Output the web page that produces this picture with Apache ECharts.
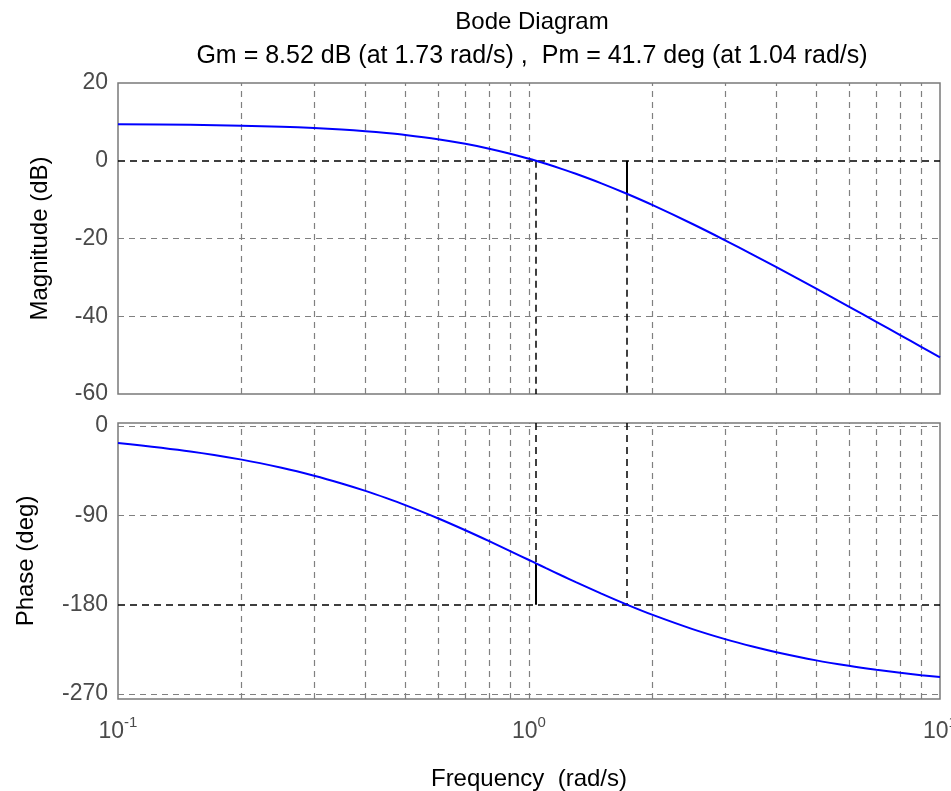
<!DOCTYPE html>
<html>
<head>
<meta charset="utf-8">
<script src="https://cdn.jsdelivr.net/npm/echarts@6/dist/echarts.min.js"></script>
<style>
html, body { margin: 0; padding: 0; background: #fff; }
#bode { width: 951px; height: 791px; }
</style>
</head>
<body>
<div id="bode"></div>
<script>
// frequency points (rad/s) and the values
var freq = [0.1, 0.15, 0.2, 0.25, 0.3, 0.35, 0.4, 0.45, 0.5, 0.6, 0.7, 0.8, 0.9, 1.0, 1.04, 1.1, 1.2, 1.3, 1.5, 1.73, 2, 2.5, 3, 3.5, 4, 5, 6, 7, 8, 9, 10];
var magDb = [9.41, 9.25, 9.03, 8.75, 8.42, 8.04, 7.61, 7.14, 6.64, 5.54, 4.35, 3.10, 1.81, 0.51, -0.01, -0.79, -2.08, -3.35, -5.81, -8.50, -11.43, -16.27, -20.46, -24.13, -27.37, -32.91, -37.50, -41.43, -44.85, -47.87, -50.59];
var phaseDeg = [-17.1, -25.6, -33.9, -42.1, -50.1, -57.9, -65.4, -72.7, -79.7, -92.9, -105.0, -116.0, -126.0, -135.0, -138.4, -143.2, -150.6, -157.3, -168.9, -179.9, -190.3, -204.6, -214.7, -222.2, -227.9, -236.1, -241.6, -245.6, -248.6, -251.0, -252.9];

// grid / tick values
var minorFreqs = [0.2, 0.3, 0.4, 0.5, 0.6, 0.7, 0.8, 0.9, 1, 2, 3, 4, 5, 6, 7, 8, 9];
var magTicks = [20, 0, -20, -40, -60];
var phaseTicks = [0, -90, -180, -270];

// stability margins
var wcg = 1.73, gmDb = 8.52;
var wcp = 1.04, pmDeg = 41.7;

var gridGray = '#808080';
var frameGray = '#7a7a7a';
var labelGray = '#4a4a4a';
var font = 'Liberation Sans';

var dashGray = { color: gridGray, type: [6, 5], width: 1.2 };
var dashBlack = { color: '#000', type: [7, 5], width: 1.5 };
var solidBlack = { color: '#000', type: 'solid', width: 2 };

function vLines(vals) {
  return vals.map(function (v) { return { xAxis: v, lineStyle: dashGray }; });
}
function hLines(vals) {
  return vals.map(function (v) { return { yAxis: v, lineStyle: dashGray }; });
}

var chart = echarts.init(document.getElementById('bode'));

chart.setOption({
  animation: false,
  backgroundColor: '#fff',
  title: {
    text: 'Bode Diagram',
    subtext: 'Gm = ' + gmDb + ' dB (at ' + wcg + ' rad/s) ,  Pm = ' + pmDeg + ' deg (at ' + wcp + ' rad/s)',
    left: 527,
    textAlign: 'center',
    top: 4,
    itemGap: 8,
    textStyle: { fontFamily: font, fontSize: 24, lineHeight: 26, fontWeight: 'normal', color: '#000' },
    subtextStyle: { fontFamily: font, fontSize: 25, lineHeight: 26, color: '#000' }
  },
  grid: [
    { left: 118, right: 11, top: 83, height: 311, show: true, borderColor: frameGray, borderWidth: 1.5, outerBoundsMode: 'none', containLabel: false },
    { left: 118, right: 11, top: 423, height: 276, show: true, borderColor: frameGray, borderWidth: 1.5, outerBoundsMode: 'none', containLabel: false }
  ],
  xAxis: [
    {
      gridIndex: 0, type: 'log', logBase: 10, min: 0.1, max: 10,
      axisLine: { show: false }, axisTick: { show: false }, axisLabel: { show: false },
      splitLine: { show: false }
    },
    {
      gridIndex: 1, type: 'log', logBase: 10, min: 0.1, max: 10,
      axisLine: { show: false }, axisTick: { show: false },
      splitLine: { show: false },
      axisLabel: {
        margin: 16,
        hideOverlap: false,
        formatter: function (v) {
          return '{b|10}{sup|' + Math.round(Math.log10(v)) + '}';
        },
        rich: {
          b: { fontFamily: font, fontSize: 23, color: labelGray, verticalAlign: 'bottom' },
          sup: { fontFamily: font, fontSize: 15, color: labelGray, verticalAlign: 'top', padding: [0, 0, 13, 0] }
        }
      },
      name: 'Frequency  (rad/s)',
      nameLocation: 'middle',
      nameGap: 68,
      nameTextStyle: { fontFamily: font, fontSize: 24, color: '#000' }
    }
  ],
  yAxis: [
    {
      gridIndex: 0, type: 'value', min: -60, max: 20, interval: 20,
      axisLine: { show: false }, axisTick: { show: false },
      axisLabel: { fontFamily: font, fontSize: 23, color: labelGray, margin: 10 },
      splitLine: { show: false },
      name: 'Magnitude (dB)', nameLocation: 'middle', nameGap: 66,
      nameTextStyle: { fontFamily: font, fontSize: 24, color: '#000' }
    },
    {
      gridIndex: 1, type: 'value', min: -275, max: 3,
      axisLine: { show: false },
      axisTick: { show: false, customValues: phaseTicks },
      axisLabel: { customValues: phaseTicks, fontFamily: font, fontSize: 23, color: labelGray, margin: 10 },
      splitLine: { show: false },
      name: 'Phase (deg)', nameLocation: 'middle', nameGap: 80,
      nameTextStyle: { fontFamily: font, fontSize: 24, color: '#000' }
    }
  ],
  series: [
    {
      name: 'Magnitude',
      type: 'line',
      xAxisIndex: 0, yAxisIndex: 0,
      data: freq.map(function (f, i) { return [f, magDb[i]]; }),
      showSymbol: false,
      smooth: 0.3,
      lineStyle: { color: '#0000ff', width: 2 },
      z: 5,
      markLine: {
        silent: true, symbol: ['none', 'none'], label: { show: false },
        data: vLines(minorFreqs).concat(hLines([-20, -40]), [
          { yAxis: 0, lineStyle: dashBlack },
          [{ coord: [wcp, 0], lineStyle: dashBlack }, { coord: [wcp, -60] }],
          [{ coord: [wcg, -gmDb], lineStyle: dashBlack }, { coord: [wcg, -60] }],
          [{ coord: [wcg, 0], lineStyle: solidBlack }, { coord: [wcg, -gmDb] }]
        ])
      }
    },
    {
      name: 'Phase',
      type: 'line',
      xAxisIndex: 1, yAxisIndex: 1,
      data: freq.map(function (f, i) { return [f, phaseDeg[i]]; }),
      showSymbol: false,
      smooth: 0.3,
      lineStyle: { color: '#0000ff', width: 2 },
      z: 5,
      markLine: {
        silent: true, symbol: ['none', 'none'], label: { show: false },
        data: vLines(minorFreqs).concat(hLines([0, -90, -270]), [
          { yAxis: -180, lineStyle: dashBlack },
          [{ coord: [wcp, 3], lineStyle: dashBlack }, { coord: [wcp, -180 + pmDeg] }],
          [{ coord: [wcp, -180 + pmDeg], lineStyle: solidBlack }, { coord: [wcp, -180] }],
          [{ coord: [wcg, 3], lineStyle: dashBlack }, { coord: [wcg, -180] }]
        ])
      }
    }
  ]
});
</script>
</body>
</html>
